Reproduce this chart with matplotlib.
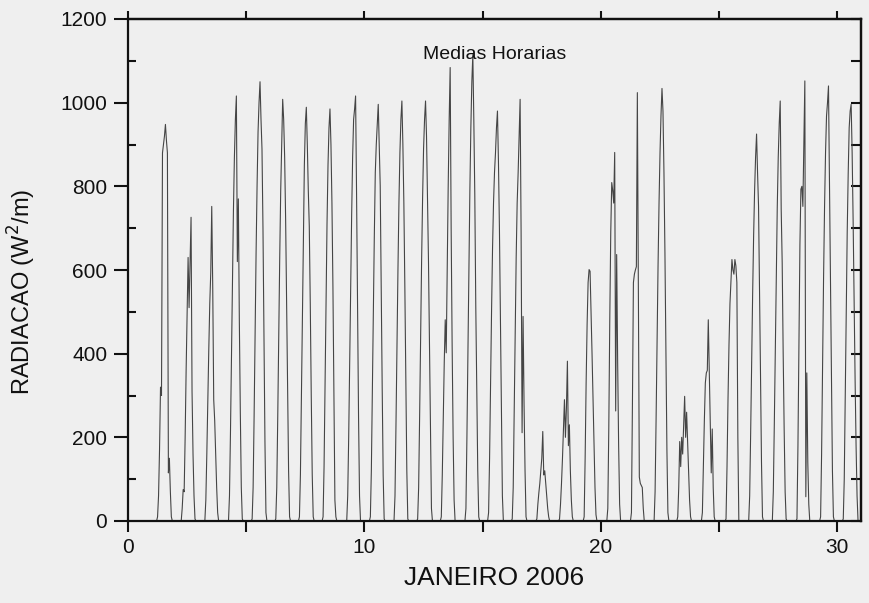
#! /usr/bin/python

"""
Hourly mean solar radiation for January 2006.
"""

import numpy as np
from matplotlib import pyplot as plt
from matplotlib.ticker import MultipleLocator

# daylight hours; every other hour of the day reads zero
hours = np.arange(6, 21)

days = np.arange(1, 31)

# hourly means (W/m2) for hours 06..20, one row per day
radiation = [
    [10, 60, 170, 320, 300, 880, 900, 920, 948, 910, 880, 115, 150, 70, 10],       # 1
    [0, 30, 75, 70, 200, 360, 500, 630, 510, 620, 726, 310, 160, 60, 5],           # 2
    [0, 50, 160, 290, 410, 520, 594, 752, 560, 290, 240, 160, 80, 20, 0],          # 3
    [0, 60, 210, 390, 570, 740, 870, 960, 1016, 620, 770, 480, 260, 80, 5],        # 4
    [5, 80, 250, 450, 640, 800, 930, 1000, 1050, 960, 889, 700, 450, 190, 20],     # 5
    [5, 80, 250, 450, 630, 790, 897, 1008, 960, 870, 720, 520, 322, 120, 10],      # 6
    [10, 110, 300, 500, 690, 850, 950, 989, 900, 790, 705, 520, 300, 110, 10],     # 7
    [10, 130, 330, 530, 710, 850, 940, 985, 900, 760, 560, 300, 50, 10, 0],        # 8
    [0, 60, 200, 380, 560, 730, 870, 960, 985, 1016, 780, 500, 250, 60, 0],        # 9
    [10, 120, 310, 510, 680, 833, 900, 950, 996, 900, 801, 560, 320, 110, 5],      # 10
    [0, 60, 230, 420, 600, 760, 880, 960, 1004, 900, 760, 560, 330, 120, 5],       # 11
    [5, 80, 250, 440, 620, 770, 890, 960, 1004, 920, 777, 620, 420, 200, 30],      # 12
    [10, 110, 250, 380, 481, 402, 600, 800, 960, 1084, 700, 420, 200, 50, 0],      # 13
    [0, 30, 200, 400, 600, 790, 940, 1050, 1115, 960, 780, 513, 320, 120, 10],     # 14
    [20, 150, 330, 500, 650, 760, 833, 880, 940, 980, 860, 700, 480, 260, 60],     # 15
    [5, 80, 270, 460, 630, 760, 833, 920, 1008, 690, 211, 489, 280, 120, 10],      # 16
    [0, 5, 40, 67, 90, 120, 150, 214, 110, 120, 90, 60, 30, 10, 0],                # 17
    [5, 40, 90, 150, 220, 290, 200, 270, 382, 180, 230, 120, 50, 10, 0],           # 18
    [0, 10, 150, 330, 470, 570, 601, 597, 500, 400, 290, 180, 80, 15, 0],          # 19
    [0, 30, 220, 480, 690, 809, 790, 760, 881, 263, 637, 380, 180, 40, 0],         # 20
    [0, 20, 280, 570, 590, 600, 608, 1024, 540, 105, 90, 85, 80, 30, 0],           # 21
    [0, 70, 240, 430, 610, 760, 880, 970, 1034, 980, 833, 640, 400, 170, 20],      # 22
    [10, 80, 190, 130, 200, 160, 230, 298, 200, 260, 187, 120, 50, 10, 0],         # 23
    [0, 20, 130, 240, 330, 354, 360, 481, 354, 235, 115, 220, 80, 10, 0],          # 24
    [0, 5, 130, 290, 420, 520, 570, 625, 600, 590, 625, 610, 570, 200, 0],         # 25
    [0, 60, 210, 380, 540, 680, 790, 870, 925, 833, 753, 560, 350, 140, 10],       # 26
    [0, 70, 230, 410, 590, 750, 870, 950, 1004, 745, 618, 402, 220, 70, 5],        # 27
    [0, 5, 180, 430, 660, 793, 800, 752, 900, 1052, 58, 354, 140, 40, 0],          # 28
    [0, 10, 160, 380, 580, 750, 880, 968, 1000, 1040, 820, 580, 340, 120, 10],     # 29
    [5, 100, 300, 510, 690, 830, 940, 980, 996, 881, 720, 530, 340, 180, 60],      # 30
]


def hourly_series(days, hours, values):
    """Spread the daylight rows over a continuous hourly time axis (in days)."""
    t = np.arange(24 * days[0], 24 * (days[-1] + 1) + 1)
    r = np.zeros(len(t))
    for d, row in zip(days, values):
        r[(d - days[0]) * 24 + hours] = row
    return t / 24.0, r


def main():
    plt.rcParams["font.family"] = ["Liberation Sans", "DejaVu Sans"]
    ink = "#111111"
    paper = "#efefef"

    fig = plt.figure(figsize=(8.7, 6.03), dpi=100, facecolor=paper)
    ax = fig.add_axes([128 / 870, 1 - 521 / 603, 733 / 870, 502 / 603])
    ax.set_facecolor(paper)

    x, r = hourly_series(days, hours, radiation)
    ax.plot(x, r, color="#454545", lw=0.8)

    ax.set_xlim(0, 31)
    ax.set_ylim(0, 1200)

    for s in ax.spines.values():
        s.set_linewidth(1.6)
        s.set_color(ink)

    ax.xaxis.set_major_locator(MultipleLocator(10))
    ax.xaxis.set_minor_locator(MultipleLocator(5))
    ax.yaxis.set_major_locator(MultipleLocator(200))
    ax.yaxis.set_minor_locator(MultipleLocator(100))
    ax.tick_params(axis="x", which="both", direction="out", length=8, width=1.5,
                   top=False, colors=ink, labelsize=15, pad=4)
    ax.tick_params(axis="y", which="major", direction="out", length=10, width=1.5,
                   right=False, colors=ink, labelsize=15, pad=5)
    ax.tick_params(axis="y", which="minor", direction="in", length=6, width=1.5,
                   right=False, colors=ink)

    # tick marks only along the top and right frame
    top = ax.secondary_xaxis("top")
    top.xaxis.set_major_locator(MultipleLocator(5))
    top.tick_params(direction="out", length=6, width=1.5, labeltop=False, colors=ink)
    top.spines["top"].set_linewidth(1.6)
    right = ax.secondary_yaxis("right")
    right.yaxis.set_major_locator(MultipleLocator(100))
    right.tick_params(direction="in", length=7, width=1.5, labelright=False, colors=ink)
    right.spines["right"].set_linewidth(1.6)

    ax.set_xlabel("JANEIRO 2006", fontsize=19, color=ink, labelpad=7)
    ax.set_ylabel("RADIACAO (W$^2$/m)", fontsize=17, color=ink)
    ax.yaxis.set_label_coords(-0.123, 0.456)
    ax.text(0.5, 0.93, "Medias Horarias", transform=ax.transAxes,
            ha="center", va="center", fontsize=14, color=ink)

    fig.savefig("out.png", dpi=100, facecolor=paper)


if __name__ == "__main__":
    main()
